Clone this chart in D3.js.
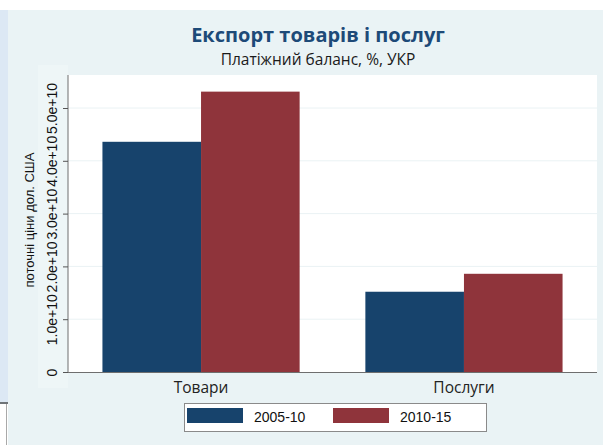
<!DOCTYPE html>
<html>
<head>
<meta charset="utf-8">
<script src="https://cdn.jsdelivr.net/npm/d3@7"></script>
<style>
  body { margin: 0; background: #fff; }
  svg { display: block; }
</style>
</head>
<body>
<div id="chart"></div>
<script>
const categories = ["Товари", "Послуги"];
const periods = ["2005-10", "2010-15"];
const values2005 = [4.36e10, 1.52e10];
const values2010 = [5.31e10, 1.86e10];
const yTicks = [0, 1e10, 2e10, 3e10, 4e10, 5e10];
const colors = ["#17436c", "#8f343b"];

const svg = d3.select("#chart").append("svg")
  .attr("width", 603).attr("height", 445);

// page pieces
svg.append("rect").attr("x", 0).attr("y", 10).attr("width", 8).attr("height", 392).attr("fill", "#dce8f4");
svg.append("rect").attr("x", 0).attr("y", 402).attr("width", 8).attr("height", 2).attr("fill", "#6f7478");
svg.append("line").attr("x1", 6.5).attr("x2", 6.5).attr("y1", 404).attr("y2", 445).attr("stroke", "#a9a9a9");
svg.append("rect").attr("x", 8).attr("y", 10).attr("width", 595).attr("height", 435).attr("fill", "#eaf3f5");
svg.append("rect").attr("x", 38).attr("y", 65).attr("width", 30).attr("height", 323).attr("fill", "#eef6f7");

const plotL = 68, plotR = 597, plotT = 75, plotB = 372;

svg.append("rect").attr("x", plotL).attr("y", plotT)
  .attr("width", plotR - plotL).attr("height", plotB - plotT).attr("fill", "#fff");

const y = d3.scaleLinear().domain([0, 5e10]).range([plotB, 108]);
const x0 = d3.scaleBand().domain(categories).range([plotL, plotR])
  .paddingInner(0.25).paddingOuter(0.131);
const x1 = d3.scaleBand().domain(periods).range([0, x0.bandwidth()]);

// grid
svg.append("g").selectAll("line").data(yTicks.slice(1)).join("line")
  .attr("x1", plotL).attr("x2", plotR)
  .attr("y1", d => y(d)).attr("y2", d => y(d))
  .attr("stroke", "#eaf2f4").attr("stroke-width", 1);

const rows = categories.map((c, i) => ({ cat: c, vals: [values2005[i], values2010[i]] }));

svg.append("g").selectAll("g").data(rows).join("g")
  .attr("transform", d => `translate(${x0(d.cat)},0)`)
  .selectAll("rect").data(d => d.vals.map((v, j) => ({ p: periods[j], v, j })))
  .join("rect")
  .attr("x", d => x1(d.p))
  .attr("y", d => y(d.v))
  .attr("width", x1.bandwidth())
  .attr("height", d => plotB - y(d.v))
  .attr("fill", d => colors[d.j]);

// y axis
const yAxis = svg.append("g").attr("transform", `translate(${plotL},0)`)
  .call(d3.axisLeft(y).tickValues(yTicks).tickSize(5).tickPadding(4)
    .tickFormat(d => d === 0 ? "0" : d3.format(".1e")(d)));
yAxis.select(".domain").attr("d", `M0,${plotT}V${plotB}`).attr("stroke", "#6e6e6e");
yAxis.selectAll(".tick line").attr("stroke", "#555");
yAxis.selectAll(".tick text")
  .attr("transform", "rotate(-90)")
  .attr("x", 0).attr("y", -11).attr("dy", 0)
  .attr("text-anchor", "middle")
  .style("font-family", "'Liberation Sans', Arial, sans-serif")
  .style("font-size", "14px").attr("fill", "#111");

svg.append("line").attr("x1", plotL).attr("x2", plotR)
  .attr("y1", plotB + 0.5).attr("y2", plotB + 0.5).attr("stroke", "#6e6e6e");

// category labels
svg.append("g").selectAll("text").data(categories).join("text")
  .attr("x", d => x0(d) + x0.bandwidth() / 2)
  .attr("y", 393)
  .attr("text-anchor", "middle")
  .style("font-family", "'Open Sans', sans-serif")
  .style("font-size", "15.5px").attr("fill", "#222")
  .text(d => d);

// y title
svg.append("text")
  .attr("transform", "translate(34,220) rotate(-90)")
  .attr("text-anchor", "middle")
  .style("font-family", "'Liberation Sans', Arial, sans-serif")
  .style("font-size", "13px").attr("fill", "#111")
  .text("поточні ціни дол. США");

// titles
svg.append("text").attr("x", 318).attr("y", 42).attr("text-anchor", "middle")
  .style("font-family", "'Open Sans', sans-serif").style("font-weight", "bold")
  .style("font-size", "20px").attr("fill", "#1d4a78")
  .text("Експорт товарів і послуг");
svg.append("text").attr("x", 318).attr("y", 65).attr("text-anchor", "middle")
  .style("font-family", "'Open Sans', sans-serif")
  .style("font-size", "15.5px").attr("fill", "#1a1a1a")
  .text("Платіжний баланс, %, УКР");

// legend
const lg = svg.append("g");
lg.append("rect").attr("x", 184.5).attr("y", 403.5).attr("width", 302).attr("height", 28)
  .attr("fill", "#fff").attr("stroke", "#8a8a8a");
const items = lg.selectAll("g").data(periods).join("g")
  .attr("transform", (d, i) => `translate(${187 + i * 146},408)`);
items.append("rect").attr("width", 56).attr("height", 15).attr("fill", (d, i) => colors[i]);
items.append("text").attr("x", 67).attr("y", 14)
  .style("font-family", "'Liberation Sans', Arial, sans-serif")
  .style("font-size", "14px").attr("fill", "#111")
  .text(d => d);
</script>
</body>
</html>
